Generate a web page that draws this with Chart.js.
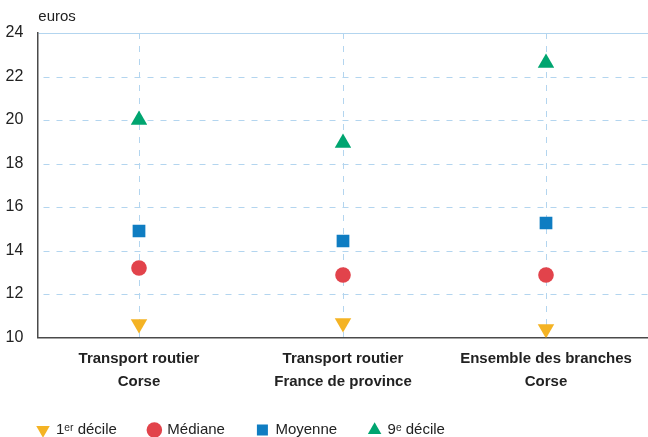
<!DOCTYPE html>
<html>
<head>
<meta charset="utf-8">
<script src="https://cdn.jsdelivr.net/npm/chart.js@4/dist/chart.umd.min.js"></script>
<style>
  html, body { margin: 0; padding: 0; background: #fff; }
  #wrap { width: 648px; height: 437px; }
</style>
</head>
<body>
<div id="wrap"><canvas id="chart" width="648" height="437"></canvas></div>
<script>
// Données (euros)
const categories = [
    ['Transport routier', 'Corse'],
    ['Transport routier', 'France de province'],
    ['Ensemble des branches', 'Corse']
];
const decile1 = [10.62, 10.67, 10.39];
const mediane = [13.20, 12.90, 12.90];
const moyenne = [14.89, 14.42, 15.26];
const decile9 = [19.99, 18.95, 22.61];
const yTicks = [10, 12, 14, 16, 18, 20, 22, 24];

const gridColor = '#b3d5ef';
const axisColor = '#4a4a4a';
const textColor = '#222222';

// petit plugin pour l'unité "euros" au-dessus de l'axe
const unitLabel = {
    id: 'unitLabel',
    afterDraw(chart) {
        const { ctx, chartArea } = chart;
        ctx.save();
        ctx.font = '15px "Liberation Sans", Arial, sans-serif';
        ctx.fillStyle = textColor;
        ctx.textBaseline = 'middle';
        ctx.textAlign = 'left';
        ctx.fillText('euros', chartArea.left + 1, 17);
        ctx.restore();
    }
};

function serie(label, data, color, style, radius, rotation) {
    return {
        label: label,
        data: data,
        showLine: false,
        borderWidth: 0,
        backgroundColor: color,
        borderColor: color,
        pointStyle: style,
        pointRadius: radius,
        pointHoverRadius: radius,
        pointRotation: rotation || 0,
        pointBackgroundColor: color,
        pointBorderColor: color,
        pointBorderWidth: 0
    };
}

new Chart(document.getElementById('chart'), {
    type: 'line',
    data: {
        labels: categories,
        datasets: [
            serie('1ᵉʳ décile', decile1, '#f4b324', 'triangle', 9.5, 180),
            serie('Médiane', mediane, '#e2434b', 'circle', 7.8),
            serie('Moyenne', moyenne, '#0f7dc2', 'rect', 9),
            serie('9ᵉ décile', decile9, '#00a570', 'triangle', 9.5)
        ]
    },
    plugins: [unitLabel],
    options: {
        responsive: false,
        animation: false,
        layout: { autoPadding: false, padding: { left: 5.5, top: 33, right: 0, bottom: -10.5 } },
        plugins: {
            tooltip: { enabled: false },
            legend: {
                position: 'bottom',
                align: 'start',
                labels: {
                    usePointStyle: true,
                    boxWidth: 11,
                    boxHeight: 11,
                    padding: 32,
                    color: textColor,
                    font: { family: '"Liberation Sans", Arial, sans-serif', size: 15 }
                }
            }
        },
        scales: {
            x: {
                offset: true,
                alignToPixels: true,
                grid: {
                    offset: false,
                    drawTicks: false,
                    color: gridColor,
                    lineWidth: 1
                },
                border: { display: true, color: axisColor, width: 1.5, dash: [6, 7] },
                ticks: {
                    padding: 9.5,
                    color: textColor,
                    font: { family: '"Liberation Sans", Arial, sans-serif', size: 15, weight: 'bold', lineHeight: 1.53 }
                },
                afterFit(scale) { scale.height -= 12; }
            },
            y: {
                min: 10,
                max: 24,
                alignToPixels: true,
                afterBuildTicks(scale) { scale.ticks = yTicks.map(v => ({ value: v })); },
                grid: {
                    drawTicks: false,
                    lineWidth: 1,
                    color: (c) => (c.tick && c.tick.value === 10) ? 'rgba(0,0,0,0)' : gridColor
                },
                border: {
                    display: true,
                    color: axisColor,
                    width: 1.5,
                    dash: (c) => (c.tick && c.tick.value === 24) ? [] : [6, 7],
                    dashOffset: -5
                },
                ticks: {
                    padding: 14,
                    color: textColor,
                    font: { family: '"Liberation Sans", Arial, sans-serif', size: 16 }
                },
                afterFit(scale) { scale.width -= 14; }
            }
        }
    }
});
</script>
</body>
</html>
